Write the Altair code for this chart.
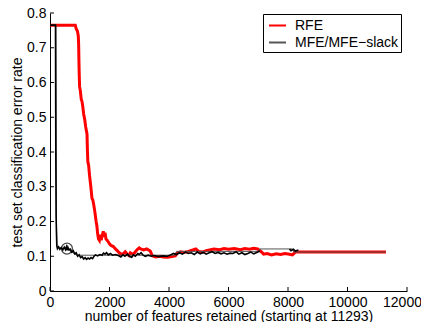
import altair as alt
import pandas as pd

# ---- data ----
rfe_x = [0, 850, 880, 920, 950, 962, 972, 982, 995, 1020, 1050, 1075, 1100, 1130, 1170, 1200,
         1244, 1258, 1272, 1298, 1330, 1370, 1412, 1440, 1470, 1500, 1523, 1550, 1575, 1600,
         1630, 1660, 1690, 1720, 1760, 1790, 1820, 1850, 1880, 1920, 1960, 2000, 2050, 2130,
         2200, 2250, 2330, 2400, 2470, 2530, 2600, 2650, 2700, 2800, 2870, 2940, 3000, 3050,
         3150, 3250, 3370, 3440, 3550, 3700, 3800, 3950, 4100, 4210, 4290, 4400, 4500, 4650,
         4800, 4900, 5000, 5130, 5250, 5400, 5510, 5700, 5850, 6000, 6200, 6400, 6550, 6700,
         6850, 6980, 7100, 7180, 7300, 7450, 7600, 7750, 7900, 8050, 8150, 8250, 11293]
rfe_y = [.765, .765, .755, .748, .735, .712, .665, .625, .588, .576, .552, .546, .532, .510, .492, .472,
         .452, .405, .372, .362, .332, .302, .266, .262, .248, .232, .218, .200, .188, .166,
         .150, .146, .162, .146, .160, .172, .156, .168, .150, .146, .141, .136, .131, .128,
         .121, .117, .110, .105, .108, .113, .105, .102, .110, .105, .113, .120, .124, .121,
         .118, .121, .115, .101, .098, .100, .098, .097, .099, .101, .110, .113, .111, .114,
         .118, .121, .114, .112, .116, .119, .121, .119, .122, .120, .122, .119, .122, .120,
         .123, .121, .113, .106, .108, .104, .107, .105, .108, .106, .104, .112, .112]

mfe_x = [0, 185, 195, 205, 215, 228, 250, 290, 330, 380, 430, 480, 520, 550, 575, 600, 630, 680,
         730, 780, 830, 880, 930, 980, 1030, 1080, 1130, 1180, 1230, 1280, 1330, 1380, 1430,
         1480, 1530, 1600, 1680, 1750, 1800, 1850, 1900, 1960, 2030, 2100, 2200, 2300, 2380,
         2450, 2520, 2600, 2680, 2750, 2800, 2870, 2950, 3000, 3060, 3120, 3200, 3300, 3400,
         3500, 3650, 3800, 3950, 4050, 4150, 4250, 4350, 4450, 4550, 4650, 4750, 4850, 4950,
         5050, 5150, 5250, 5350, 5450, 5550, 5650, 5750, 5850, 5950, 6050, 6150, 6250, 6350,
         6450, 6550, 6650, 6750, 6850, 6950, 7050]
mfe_y = [.765, .765, .40, .22, .175, .132, .122, .127, .120, .125, .118, .126, .119, .127, .117, .126, .119, .121,
         .112, .116, .107, .110, .100, .104, .096, .099, .092, .096, .091, .095, .092, .096, .093,
         .100, .104, .101, .105, .103, .109, .106, .110, .104, .108, .103, .105, .102, .098,
         .104, .100, .106, .099, .097, .104, .100, .108, .105, .110, .104, .100, .103, .100,
         .102, .099, .101, .100, .104, .108, .105, .110, .106, .112, .108, .110, .105, .112,
         .107, .111, .106, .110, .113, .108, .111, .107, .110, .106, .109, .108, .113, .106,
         .110, .105, .108, .112, .107, .111, .115]

mfe2_x = [8050, 8100, 8180, 8250, 8350]
mfe2_y = [.121, .116, .120, .115, .118]

slack_x = [0, 200, 215, 235, 570, 900, 4200, 4250, 7000, 7050, 8150, 8200, 11293]
slack_y = [.765, .765, .20, .125, .121, .103, .103, .114, .114, .121, .121, .112, .112]

best_x = [570]
best_y = [.122]

x_ticks = [0, 2000, 4000, 6000, 8000, 10000, 12000]
y_ticks = [0, 0.1, 0.2, 0.3, 0.4, 0.5, 0.6, 0.7, 0.8]

series_names = ["RFE", "MFE/MFE\u2212slack"]
series_colors = ["#ff0000", "#555555"]

# ---- tables ----
rfe_df = pd.DataFrame({"x": rfe_x, "y": rfe_y, "s": series_names[0]})
slack_df = pd.DataFrame({"x": slack_x, "y": slack_y, "s": series_names[1]})
mfe_df = pd.concat([
    pd.DataFrame({"x": mfe_x, "y": mfe_y, "seg": "a"}),
    pd.DataFrame({"x": mfe2_x, "y": mfe2_y, "seg": "b"}),
])
best_df = pd.DataFrame({"x": best_x, "y": best_y})
xt_df = pd.DataFrame({"t": x_ticks})
yt_df = pd.DataFrame({"t": y_ticks})

FONT = "Liberation Sans"
FS = 14
W, H = 357, 278

xscale = alt.Scale(domain=[0, 12000], nice=False, zero=False)
yscale = alt.Scale(domain=[0, 0.8], nice=False, zero=False)

xaxis = alt.Axis(values=x_ticks, format="d", title="number of features retained (starting at 11293)",
                 labelPadding=4, labelOverlap=False, labelFlush=False,
                 labelOffset={"condition": {"test": "datum.value == 12000", "value": -5}, "value": 0},
                 titleBaseline="alphabetic", titleY=29)
yaxis = alt.Axis(values=y_ticks, title="test set classification error rate",
                 labelExpr="datum.value == 0 ? '0' : format(datum.value, '.1f')",
                 labelPadding=4, labelOverlap=False, labelFlush=False,
                 titleAngle=270, titleBaseline="alphabetic", titleX=-29, titleY=H / 2)

color = alt.Color("s:N", scale=alt.Scale(domain=series_names, range=series_colors), title=None,
                  legend=alt.Legend(orient="none", legendX=213, legendY=1, symbolType="stroke",
                                    symbolStrokeWidth=2, symbolSize=289, rowPadding=0,
                                    symbolOffset=3, labelOffset=8,
                                    labelFontSize=FS, labelFont=FONT, labelColor="black",
                                    padding=2, strokeColor="black",
                                    fillColor="white", cornerRadius=0))

rfe = alt.Chart(rfe_df).mark_line(strokeWidth=3, interpolate="linear").encode(
    x=alt.X("x:Q", scale=xscale, axis=xaxis),
    y=alt.Y("y:Q", scale=yscale, axis=yaxis),
    color=color,
    order="x:Q",
)
slack = alt.Chart(slack_df).mark_line(strokeWidth=1).encode(
    x=alt.X("x:Q", axis=xaxis), y=alt.Y("y:Q", axis=yaxis), color=color, order="x:Q")
mfe = alt.Chart(mfe_df).mark_line(strokeWidth=1.6).encode(
    x=alt.X("x:Q", axis=xaxis), y=alt.Y("y:Q", axis=yaxis), detail="seg:N",
    color=alt.value("black"), order="x:Q")
best = alt.Chart(best_df).mark_point(shape="circle", size=120, filled=False, strokeWidth=1.3).encode(
    x=alt.X("x:Q", axis=xaxis), y=alt.Y("y:Q", axis=yaxis), color=alt.value("black"))
xt = alt.Chart(xt_df).mark_rule(strokeWidth=1, color="black").encode(
    x=alt.X("t:Q", axis=xaxis), y=alt.value(H), y2=alt.value(H - 4))
yt = alt.Chart(yt_df).mark_rule(strokeWidth=1, color="black").encode(
    y=alt.Y("t:Q", axis=yaxis), x=alt.value(0), x2=alt.value(4))

chart = alt.layer(rfe, slack, mfe, best, xt, yt).properties(
    width=W, height=H,
    autosize=alt.AutoSizeParams(type="none"),
    padding={"left": 42, "top": 5, "right": 14, "bottom": 31},
).configure_view(strokeWidth=0).configure_axis(
    domainColor="black", domainWidth=1, grid=False, ticks=False, tickSize=0,
    labelOverlap=False, labelFlush=False,
    labelFont=FONT, labelFontSize=FS, labelColor="black",
    titleFont=FONT, titleFontSize=FS, titleFontWeight="normal", titleColor="black",
)

chart.save("out.html", embed_options={"renderer": "svg", "actions": False})
